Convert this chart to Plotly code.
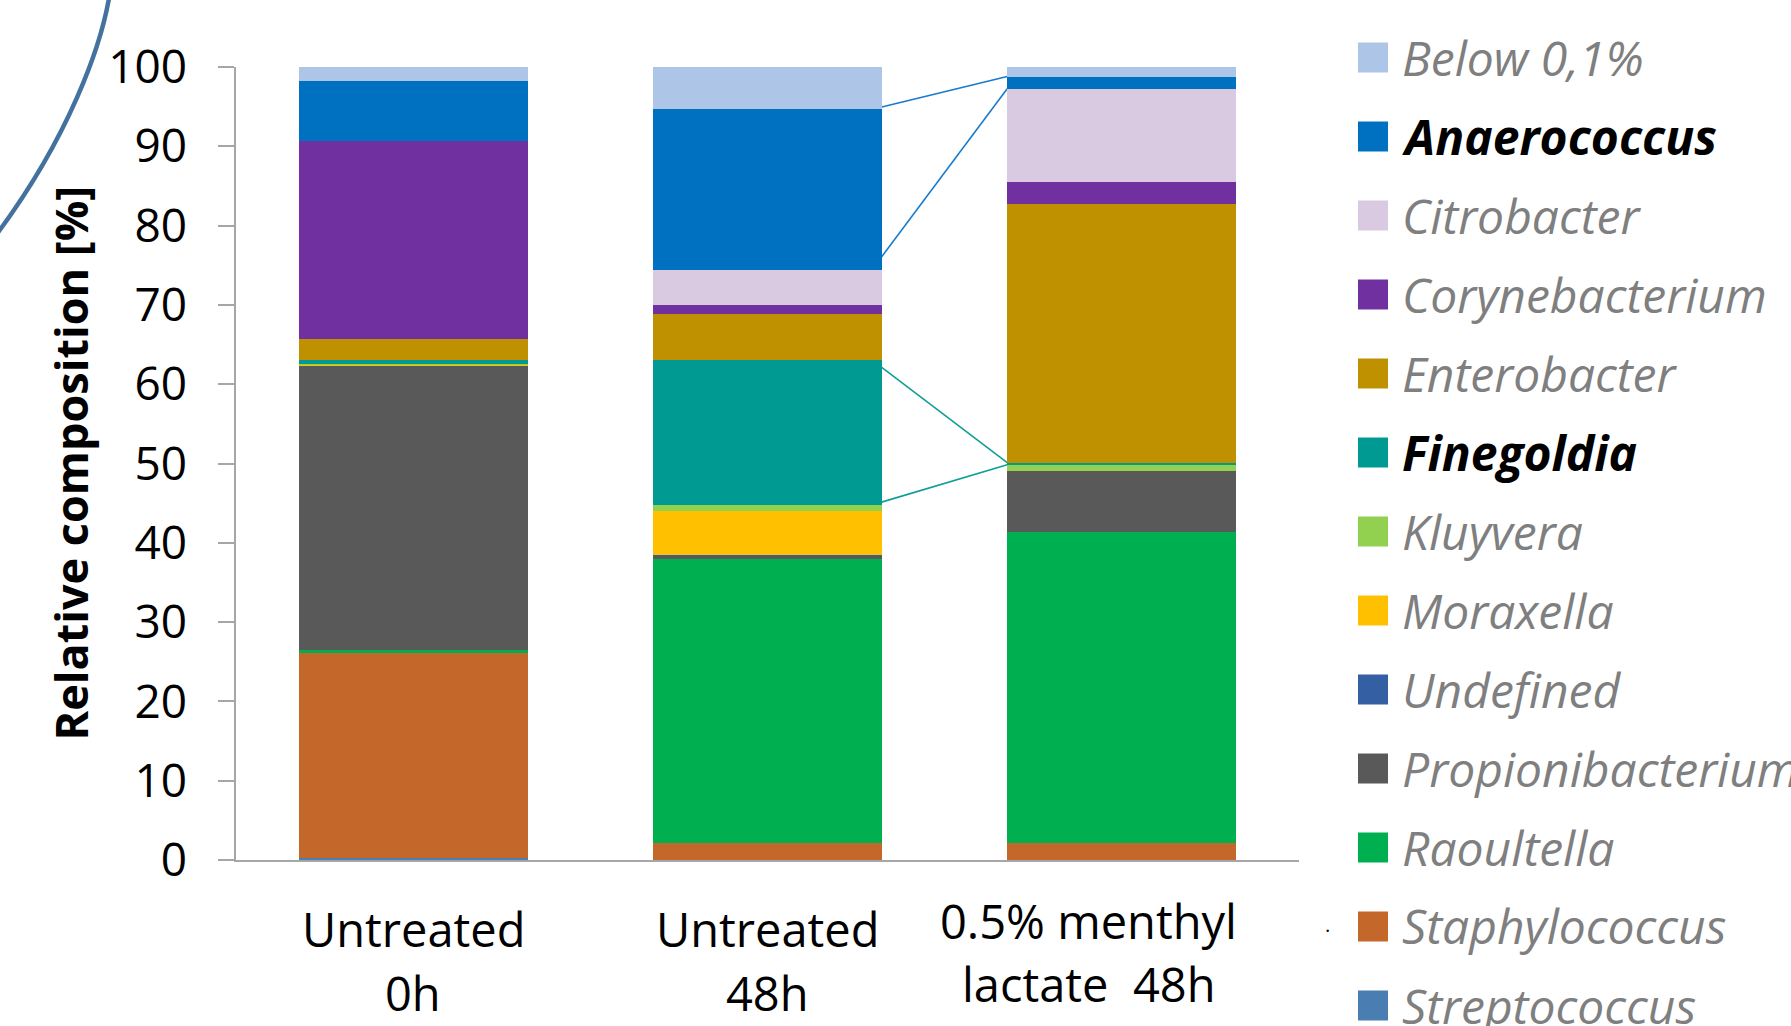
import plotly.graph_objects as go

# ---------------- data (values in %) ----------------
categories = ["Untreated<br>0h", "Untreated<br>48h", "0.5% menthyl<br>lactate\u00a0 48h"]

# stack order: bottom -> top
series_names = ["Streptococcus", "Staphylococcus", "Raoultella", "Propionibacterium",
                "Undefined", "Moraxella", "Kluyvera", "Finegoldia", "Enterobacter",
                "Corynebacterium", "Citrobacter", "Anaerococcus", "Below 0,1%"]
streptococcus = [0.3, 0.0, 0.0]
staphylococcus = [25.8, 2.2, 2.2]
raoultella = [0.4, 35.75, 39.2]
propionibacterium = [35.8, 0.4, 7.6]
undefined = [0.0, 0.1, 0.0]
moraxella = [0.15, 5.6, 0.0]
kluyvera = [0.05, 0.7, 0.85]
finegoldia = [0.6, 18.35, 0.25]
enterobacter = [2.65, 5.8, 32.65]
corynebacterium = [24.95, 1.05, 2.75]
citrobacter = [0.0, 4.4, 11.75]
anaerococcus = [7.55, 20.3, 1.55]
below_01 = [1.75, 5.35, 1.2]

series_values = [streptococcus, staphylococcus, raoultella, propionibacterium, undefined,
                 moraxella, kluyvera, finegoldia, enterobacter, corynebacterium,
                 citrobacter, anaerococcus, below_01]
series_colors = ["#4A7EB2", "#C4672A", "#00B050", "#595959", "#355FA3", "#FFC000",
                 "#92D050", "#009A93", "#BF9000", "#7030A0", "#D9CAE1", "#0070C0", "#ADC5E6"]
bold_names = ["Anaerococcus", "Finegoldia"]
y_ticks = [0, 10, 20, 30, 40, 50, 60, 70, 80, 90, 100]

# ---------------- layout geometry (pixels) ----------------
W, H = 1791, 1026
ML, MR, MT, MB = 236, 492, 67, 166
PW, PH = W - ML - MR, H - MT - MB
BARGAP = 0.353
HALF = (1 - BARGAP) / 2


def px(fx):
    return (fx - ML) / PW


def py(fy):
    return (H - MB - fy) / PH


fig = go.Figure()
xs = list(range(len(categories)))
for name, vals, col in zip(series_names, series_values, series_colors):
    fig.add_trace(go.Bar(x=xs, y=vals, name=name, marker=dict(color=col, line=dict(width=0)),
                         showlegend=False))

shapes = []
annotations = []

# series connector lines between bar 2 and bar 3 (Anaerococcus and Finegoldia)
def cum_bounds(idx, bar):
    lo = sum(series_values[k][bar] for k in range(idx))
    return lo, lo + series_values[idx][bar]

line_colors = {"Anaerococcus": "#1A7ACB", "Finegoldia": "#0F9E97"}
for nm, lc in line_colors.items():
    i = series_names.index(nm)
    lo2, hi2 = cum_bounds(i, 1)
    lo3, hi3 = cum_bounds(i, 2)
    for a, b in [(hi2, hi3), (lo2, lo3)]:
        shapes.append(dict(type="line", xref="x", yref="y", layer="below",
                           x0=1 + HALF - 0.03, y0=a, x1=2 - HALF, y1=b,
                           line=dict(color=lc, width=1.6)))

# decorative arc in the top-left corner
pts = [(110, -8), (102, 45), (69, 138), (-6, 238)]
path = "M {:.4f},{:.4f} C {:.4f},{:.4f} {:.4f},{:.4f} {:.4f},{:.4f}".format(
    px(pts[0][0]), py(pts[0][1]), px(pts[1][0]), py(pts[1][1]),
    px(pts[2][0]), py(pts[2][1]), px(pts[3][0]), py(pts[3][1]))
shapes.append(dict(type="path", xref="paper", yref="paper", path=path,
                   line=dict(color="#43729F", width=4.5)))

# custom legend (top -> bottom = reverse stack order)
leg_x0, leg_txt_x, leg_y0, leg_step, sq = 1358, 1400, 57, 79, 29
for k, idx in enumerate(reversed(range(len(series_names)))):
    nm = series_names[idx]
    yc = leg_y0 + leg_step * k
    shapes.append(dict(type="rect", xref="paper", yref="paper",
                       x0=px(leg_x0), x1=px(leg_x0 + sq + 1), y0=py(yc + sq / 2 + 1), y1=py(yc - sq / 2),
                       fillcolor=series_colors[idx], line=dict(width=0)))
    if nm in bold_names:
        txt, colr = "<b><i>%s</i></b>" % nm, "#000000"
    else:
        txt, colr = "<i>%s</i>" % nm, "#7F7F7F"
    annotations.append(dict(xref="paper", yref="paper", x=px(leg_txt_x), y=py(yc),
                            xanchor="left", yanchor="middle", text=txt, showarrow=False,
                            font=dict(family="Open Sans", size=48, color=colr)))

# x category labels (two lines each)
line_centers = [[929, 993], [929, 993], [921, 984]]
x_shifts = [0, 0, -33]
for i, cat in enumerate(categories):
    for j, part in enumerate(cat.split("<br>")):
        annotations.append(dict(xref="x", yref="paper", x=i, y=0, yshift=-(line_centers[i][j] - (H - MB)),
                                xshift=x_shifts[i], xanchor="center", yanchor="middle",
                                text=part, showarrow=False,
                                font=dict(family="Open Sans", size=47, color="#000000")))

# y axis title
annotations.append(dict(xref="paper", yref="paper", x=px(70), y=0.5, xanchor="center",
                        yanchor="middle", textangle=-90, showarrow=False,
                        text="<b>Relative composition [%]</b>",
                        font=dict(family="Open Sans", size=45, color="#000000")))

# tiny dot artifact
annotations.append(dict(xref="paper", yref="paper", x=px(1332), y=py(940), showarrow=False,
                        text=".", font=dict(family="Open Sans", size=20, color="#000000")))

fig.update_layout(
    width=W, height=H, barmode="stack", bargap=BARGAP,
    margin=dict(l=ML, r=MR, t=MT, b=MB, pad=0),
    paper_bgcolor="white", plot_bgcolor="white",
    font=dict(family="Open Sans", color="#000000"),
    shapes=shapes, annotations=annotations,
    xaxis=dict(type="linear", range=[-0.5, 2.5], showticklabels=False, ticks="",
               showgrid=False, zeroline=False, showline=True, linecolor="#A6A6A6", linewidth=1.5),
    yaxis=dict(range=[0, 100], tickvals=y_ticks, ticks="outside", ticklen=16, tickwidth=1.5,
               tickcolor="#A6A6A6", showline=True, linecolor="#A6A6A6", linewidth=1.5,
               showgrid=False, zeroline=False, ticklabelstandoff=22,
               tickfont=dict(family="Open Sans", size=46, color="#000000")),
)

fig.write_html("out.html")
